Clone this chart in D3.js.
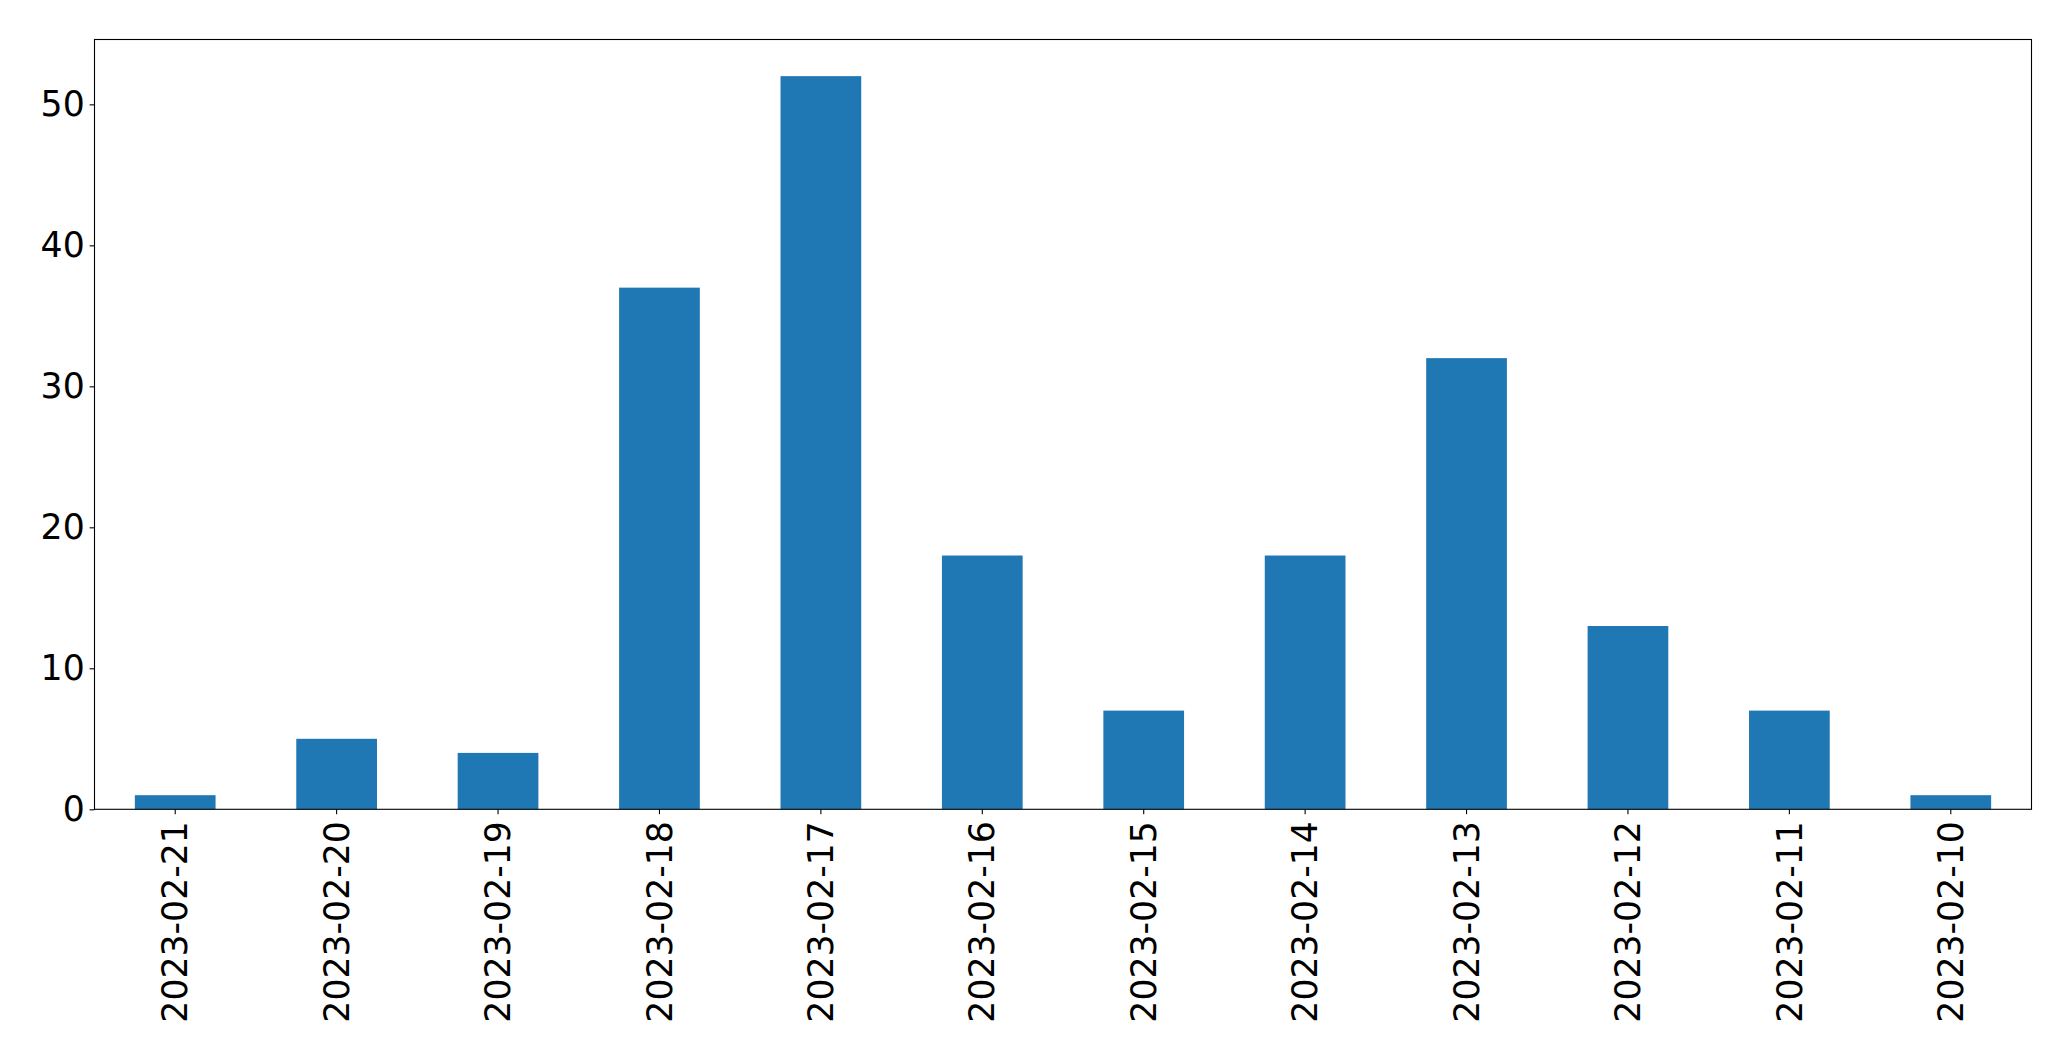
<!DOCTYPE html>
<html>
<head>
<meta charset="utf-8">
<script src="https://cdn.jsdelivr.net/npm/d3@7"></script>
<style>
  html, body { margin: 0; padding: 0; background: #fff; }
  svg { display: block; }
  text { font-family: "DejaVu Sans", sans-serif; }
</style>
</head>
<body>
<script>
const categories = ["2023-02-21","2023-02-20","2023-02-19","2023-02-18","2023-02-17","2023-02-16","2023-02-15","2023-02-14","2023-02-13","2023-02-12","2023-02-11","2023-02-10"];
const values = [1,5,4,37,52,18,7,18,32,13,7,1];
const yTicks = [0,10,20,30,40,50];

const W = 2071, H = 1061;
const mLeft = 94.5, mRight = 2031.5, mTop = 39.5, mBottom = 809.3;
const fontSize = 34.7;
const tickLen = 4.9, pad = 4.9;

const svg = d3.select("body").append("svg").attr("width", W).attr("height", H);

const x = d3.scaleBand().domain(categories).range([mLeft, mRight]).paddingInner(0.5).paddingOuter(0.25);
const yMax = d3.max(values) * 1.05;
const y = d3.scaleLinear().domain([0, yMax]).range([mBottom, mTop]);

svg.append("g").selectAll("rect").data(values).join("rect")
  .attr("x", (d, i) => x(categories[i]))
  .attr("width", x.bandwidth())
  .attr("y", d => y(d))
  .attr("height", d => y(0) - y(d))
  .attr("fill", "#1f77b4");

// frame
svg.append("rect").attr("x", mLeft).attr("y", mTop).attr("width", mRight - mLeft).attr("height", mBottom - mTop)
  .attr("fill", "none").attr("stroke", "#000").attr("stroke-width", 1.1);

// y axis
const yAxis = d3.axisLeft(y).tickValues(yTicks).tickSize(tickLen).tickPadding(pad).tickFormat(d3.format("d"));
const gy = svg.append("g").attr("transform", `translate(${mLeft},0)`).call(yAxis);
gy.select(".domain").remove();
gy.selectAll(".tick line").attr("stroke", "#000").attr("stroke-width", 1.1);
gy.selectAll(".tick text").attr("font-size", fontSize).attr("fill", "#000").attr("font-family", "DejaVu Sans");

// x axis
const xAxis = d3.axisBottom(x).tickSize(tickLen).tickPadding(pad);
const gx = svg.append("g").attr("transform", `translate(0,${mBottom})`).call(xAxis);
gx.select(".domain").remove();
gx.selectAll(".tick line").attr("stroke", "#000").attr("stroke-width", 1.1);
gx.selectAll(".tick text")
  .attr("font-size", fontSize).attr("fill", "#000").attr("font-family", "DejaVu Sans")
  .attr("text-anchor", "end")
  .attr("transform", "rotate(-90)")
  .attr("x", -(tickLen + pad + 2))
  .attr("y", 0)
  .attr("dy", "0.35em");
</script>
</body>
</html>
